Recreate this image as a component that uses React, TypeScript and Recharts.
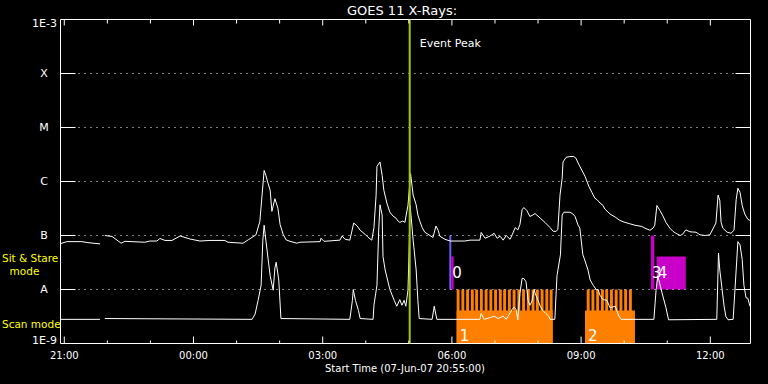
import React from "react"
import { ComposedChart, Line, XAxis, YAxis, ReferenceArea, ReferenceLine } from "recharts"

// time axis: hours since 00:00 UT on 07-Jun-07 (values above 24 fall on 08-Jun)
const longTime = [
  20.92, 21.06, 21.41, 21.53, 21.83, 21.88, 21.94, 22.11, 22.32, 22.41, 22.87, 22.99, 23.15, 23.22,
  23.34, 23.5, 23.69, 23.92, 24.15, 24.38, 24.73, 24.8, 25.15, 25.27, 25.45, 25.54, 25.64, 25.68,
  25.73, 25.78, 25.82, 25.89, 25.96, 26.01, 26.08, 26.15, 26.24, 26.4, 26.47, 26.94, 26.96, 27.03,
  27.4, 27.45, 27.52, 27.63, 27.72, 27.8, 27.87, 27.98, 28.05, 28.14, 28.19, 28.24, 28.26, 28.33,
  28.38, 28.42, 28.49, 28.56, 28.63, 28.7, 28.75, 28.79, 28.86, 28.91, 28.93, 28.98, 29.04, 29.1,
  29.17, 29.21, 29.26, 29.31, 29.37, 29.44, 29.56, 29.63, 29.68, 29.72, 29.84, 29.96, 30.3, 30.42,
  30.65, 30.68, 30.77, 30.88, 30.98, 31.05, 31.12, 31.19, 31.26, 31.35, 31.4, 31.47, 31.53, 31.58,
  31.63, 31.67, 31.74, 31.81, 31.88, 31.93, 32.05, 32.16, 32.28, 32.35, 32.42, 32.46, 32.51, 32.56,
  32.58, 32.65, 32.74, 32.83, 32.88, 32.93, 33.02, 33.09, 33.18, 33.25, 33.32, 33.37, 33.44, 33.51,
  33.55, 33.67, 33.79, 33.9, 34.02, 34.13, 34.25, 34.41, 34.48, 34.6, 34.67, 34.71, 34.76, 34.83,
  34.9, 34.97, 35.06, 35.13, 35.2, 35.3, 35.36, 35.43, 35.53, 35.67, 35.76, 35.88, 35.99, 36.13,
  36.18, 36.22, 36.25, 36.29, 36.39, 36.48, 36.55, 36.6, 36.64, 36.69, 36.74, 36.8, 36.87, 36.92,
]
const longFlux = [
  7.1e-8, 7.7e-8, 7.7e-8, 7.4e-8, 7.0e-8, null, 1.0e-7, 9.6e-8, 7.2e-8, 7.8e-8, 7.5e-8, 7.9e-8, 7.9e-8, 8.8e-8,
  8.1e-8, 8.1e-8, 9.8e-8, 8.6e-8, 7.9e-8, 8.1e-8, 8.1e-8, 7.5e-8, 7.2e-8, 8.3e-8, 1.03e-7, 1.8e-7, 1.6e-6, 1.3e-6,
  9.3e-7, 6.9e-7, 2.8e-7, 4.8e-7, 3.2e-7, 1.6e-7, 1.06e-7, 8.3e-8, 7.8e-8, 7.2e-8, 7.5e-8, 7.7e-8, 8.9e-8, 7.8e-8,
  8.2e-8, 9.8e-8, 8.5e-8, 8.2e-8, 1.7e-7, 1.5e-7, 1.25e-7, 1.06e-7, 9.3e-8, 8.2e-8, 1.4e-7, 5.6e-7, 1.9e-6, 2.3e-6,
  1.3e-6, 6.9e-7, 4.0e-7, 2.7e-7, 2.3e-7, 2.1e-7, 1.85e-7, 1.75e-7, 1.85e-7, 1.75e-7, 2.2e-7, 3.6e-7, 1.4e-6, 5.6e-7,
  3.7e-7, 2.4e-7, 1.8e-7, 1.4e-7, 1.15e-7, 1.06e-7, 9.2e-8, 1.5e-7, 1.25e-7, 9.7e-8, 8.5e-8, 7.9e-8, 7.9e-8, 8.2e-8,
  8.2e-8, 1.14e-7, 8.9e-8, 9.7e-8, 1.1e-7, 8.9e-8, 9.7e-8, 8.2e-8, 1.0e-7, 8.5e-8, 1.03e-7, 1.4e-7, 1.27e-7, 1.6e-7,
  3.0e-7, 3.3e-7, 2.9e-7, 2.25e-7, 2.4e-7, 2.55e-7, 2.1e-7, 1.75e-7, 1.4e-7, 1.2e-7, 1.19e-7, 1.3e-7, 5.6e-7, 1.15e-6,
  2.3e-6, 2.8e-6, 2.9e-6, 2.9e-6, 2.7e-6, 2.2e-6, 1.6e-6, 1.25e-6, 8.1e-7, 6.3e-7, 4.9e-7, 4.6e-7, 4.0e-7, 3.6e-7,
  3.1e-7, 2.5e-7, 2.2e-7, 1.9e-7, 1.75e-7, 1.65e-7, 1.55e-7, 1.47e-7, 1.37e-7, 1.25e-7, 1.37e-7, 1.55e-7, 3.6e-7, 2.9e-7,
  2.3e-7, 1.75e-7, 1.37e-7, 1.2e-7, 1.1e-7, 1.0e-7, 1.06e-7, 1.27e-7, 1.17e-7, 1.15e-7, 1.03e-7, 1.0e-7, 1.03e-7, 1.7e-7,
  5.6e-7, 4.5e-7, 1.75e-7, 1.37e-7, 1.15e-7, 1.1e-7, 1.25e-7, 4.6e-7, 7.5e-7, 6.3e-7, 3.6e-7, 2.5e-7, 2.0e-7, 1.9e-7,
]

const shortTime = [
  20.92, 21.83, 21.88, 21.94, 25.36, 25.43, 25.5, 25.57, 25.61, 25.64, 25.68, 25.73, 25.78, 25.85,
  25.89, 25.92, 25.98, 26.03, 27.63, 27.69, 27.71, 27.76, 27.83, 27.87, 28.17, 28.19, 28.26, 28.3,
  28.33, 28.38, 28.4, 28.45, 28.56, 28.66, 28.72, 28.79, 28.84, 28.89, 28.93, 28.98, 29.0, 29.03,
  29.1, 29.17, 29.21, 29.24, 29.54, 29.59, 29.65, 30.65, 30.68, 30.75, 30.88, 30.98, 31.07, 31.19,
  31.26, 31.4, 31.44, 31.49, 31.53, 31.58, 31.63, 31.67, 31.72, 31.77, 31.81, 31.86, 31.91, 31.93,
  32.0, 32.05, 32.11, 32.18, 32.25, 32.28, 32.39, 32.44, 32.52, 32.56, 32.6, 32.74, 32.81, 32.86,
  32.93, 32.97, 33.04, 33.07, 33.16, 33.21, 33.28, 33.35, 33.39, 33.44, 33.51, 33.6, 33.67, 33.79,
  33.88, 33.93, 34.69, 34.74, 34.78, 34.88, 34.97, 35.03, 36.15, 36.19, 36.22, 36.32, 36.36, 36.41,
  36.53, 36.6, 36.64, 36.69, 36.74, 36.78, 36.83, 36.87, 36.92,
]
const shortFlux = [
  2.8e-9, 2.8e-9, null, 2.9e-9, 2.8e-9, 3.5e-9, 6.3e-9, 1.2e-8, 8.2e-8, 1.55e-7, 8.2e-8, 3.8e-8, 1.8e-8, 9.7e-9,
  2.5e-8, 3.2e-8, 1.5e-8, 2.9e-9, 2.8e-9, 6.3e-9, 1.0e-8, 6.3e-9, 4.1e-9, 2.9e-9, 2.8e-9, 5.1e-9, 1.2e-8, 1.25e-7,
  3.7e-7, 2.4e-7, 4.1e-8, 2.3e-8, 1.0e-8, 6.3e-9, 4.9e-9, 6.5e-9, 5.1e-9, 6.3e-9, 4.9e-9, 9.7e-9, 3.5e-8, 3.6e-7,
  8.2e-8, 2.3e-8, 6.3e-9, 2.9e-9, 2.8e-9, 4.9e-9, 2.8e-9, 2.8e-9, 3.6e-9, 2.8e-9, 3.0e-9, 3.2e-9, 2.9e-9, 3.2e-9,
  2.8e-9, 4.3e-9, 4.7e-9, 4.3e-9, 2.75e-9, 8.6e-9, 1.6e-8, 1.6e-8, 1.4e-8, 6.3e-9, 5.1e-9, 6.1e-9, 1.0e-8, 8.6e-9,
  6.3e-9, 4.9e-9, 4.1e-9, 3.6e-9, 3.2e-9, 2.8e-9, 2.8e-9, 1.8e-8, 4.4e-8, 2.4e-7, 2.7e-7, 2.7e-7, 2.5e-7, 2.25e-7,
  1.55e-7, 1.37e-7, 4.4e-8, 3.8e-8, 2.3e-8, 1.5e-8, 1.2e-8, 1.0e-8, 1.0e-8, 7.8e-9, 6.5e-9, 6.3e-9, 4.6e-9, 4.9e-9,
  3.2e-9, 2.8e-9, 2.8e-9, 9.7e-9, 1.8e-8, 8.6e-9, 4.6e-9, 2.75e-9, 2.8e-9, 4.7e-8, 2.3e-8, 4.9e-9, 3.2e-9, 2.75e-9,
  2.8e-9, 2.3e-8, 7.7e-8, 6.7e-8, 3.6e-8, 1.2e-8, 7.0e-9, 6.9e-9, 4.9e-9,
]

const hourTicks = [21, 22, 23, 24, 25, 26, 27, 28, 29, 30, 31, 32, 33, 34, 35, 36]
const labelledHours = [21, 24, 27, 30, 33, 36]
const decadeTicks = [1e-9, 1e-8, 1e-7, 1e-6, 1e-5, 1e-4, 1e-3]
const decadeLabels = ["1E-9", "A", "B", "C", "M", "X", "1E-3"]
const classLevels = [1e-8, 1e-7, 1e-6, 1e-5, 1e-4]

const eventPeak = 29.02

// scan mode rasters
const scanStart = [30.11, 33.09]
const scanEnd = [32.34, 34.25]
const scanLabel = ["1", "2"]
const rasterStart = [
  30.11, 30.22, 30.33, 30.44, 30.54, 30.65, 30.76, 30.87, 30.98, 31.09, 31.19, 31.3, 31.41, 31.52,
  31.63, 31.74, 31.85, 31.95, 32.06, 32.17, 32.27,
  33.13, 33.24, 33.35, 33.46, 33.56, 33.67, 33.78, 33.89, 34.0, 34.11,
]
const rasterLength = 0.068

// sit & stare pointings
const stareStart = [29.94, 29.985, 34.62, 34.755]
const stareEnd = [29.985, 30.04, 34.7, 35.43]
const stareTop = [1e-7, 4.1e-8, 1e-7, 4.1e-8]
const stareLabel = ["", "0", "3", "4"]

const longData = longTime.map((t, i) => ({ t, flux: longFlux[i] }))
const shortData = shortTime.map((t, i) => ({ t, flux: shortFlux[i] }))

const FONT = "DejaVu Sans"
const PLOT = { left: 60.5, right: 750.5, top: 19.5, bottom: 343.5 }
const X_DOMAIN = [20.912, 36.933]
const ORANGE = "#ff8000"
const MAGENTA = "#c800c8"
const BLUE = "#6a60ff"

function XTick(props: any) {
  const { x, payload } = props
  const h = payload.value
  const big = labelledHours.includes(h)
  const label = String(h % 24).padStart(2, "0") + ":00"
  return (
    <g>
      <line x1={x} x2={x} y1={PLOT.bottom} y2={PLOT.bottom - (big ? 7 : 3)} stroke="#fff" />
      <line x1={x} x2={x} y1={PLOT.top} y2={PLOT.top + (big ? 6 : 4)} stroke="#fff" />
      {big && (
        <text x={x} y={355} textAnchor="middle" dominantBaseline="central" fill="#fff" fontSize={10} fontFamily={FONT}>
          {label}
        </text>
      )}
    </g>
  )
}

function YTick(props: any) {
  const { y, payload } = props
  const i = decadeTicks.indexOf(payload.value)
  const label = decadeLabels[i]
  const isEnd = i === 0 || i === decadeTicks.length - 1
  const ty = i === 0 ? y - 3.5 : i === decadeTicks.length - 1 ? y + 3.5 : y
  return (
    <g>
      {!isEnd && <line x1={PLOT.left} x2={PLOT.left + 15} y1={y} y2={y} stroke="#fff" />}
      {!isEnd && <line x1={PLOT.right - 15} x2={PLOT.right} y1={y} y2={y} stroke="#fff" />}
      <text
        x={isEnd ? 57 : 44}
        y={ty}
        textAnchor={isEnd ? "end" : "middle"}
        dominantBaseline="central"
        fill="#fff"
        fontSize={11}
        fontFamily={FONT}
      >
        {label}
      </text>
    </g>
  )
}

export default function App() {
  return (
    <div style={{ position: "absolute", left: 0, top: 0, width: 768, height: 384, background: "#000" }}>
      <ComposedChart
        width={768}
        height={384}
        margin={{ top: PLOT.top, right: 768 - PLOT.right, bottom: 0.5, left: 0.5 }}
      >
        <XAxis
          type="number"
          dataKey="t"
          domain={X_DOMAIN}
          allowDataOverflow
          ticks={hourTicks}
          interval={0}
          height={40}
          tickSize={0}
          axisLine={false}
          tickLine={false}
          tick={(p: any) => <XTick {...p} />}
        />
        <YAxis
          type="number"
          scale="log"
          domain={[1e-9, 1e-3]}
          allowDataOverflow
          ticks={decadeTicks}
          interval={0}
          width={60}
          tickSize={0}
          axisLine={false}
          tickLine={false}
          tick={(p: any) => <YTick {...p} />}
        />
        {classLevels.map((lvl) => (
          <ReferenceLine key={"g" + lvl} y={lvl} stroke="#fff" strokeDasharray="1 5" />
        ))}
        {scanStart.map((s, i) => (
          <ReferenceArea
            key={"scan" + i}
            x1={s}
            x2={scanEnd[i]}
            y1={1e-9}
            y2={4.1e-9}
            fill={ORANGE}
            fillOpacity={1}
            stroke="none"
          />
        ))}
        {rasterStart.map((s, i) => (
          <ReferenceArea
            key={"r" + i}
            x1={s}
            x2={s + rasterLength}
            y1={1e-9}
            y2={1e-8}
            fill={ORANGE}
            fillOpacity={1}
            stroke="none"
          />
        ))}
        {stareStart.map((s, i) => (
          <ReferenceArea
            key={"st" + i}
            x1={s}
            x2={stareEnd[i]}
            y1={1e-8}
            y2={stareTop[i]}
            fill={stareLabel[i] === "" ? BLUE : MAGENTA}
            fillOpacity={1}
            stroke="none"
          />
        ))}
        {scanStart.map((s, i) => (
          <ReferenceArea
            key={"scanlbl" + i}
            x1={s}
            x2={scanEnd[i]}
            y1={1e-9}
            y2={4.1e-9}
            fill="none"
            stroke="none"
            label={{ value: scanLabel[i], position: "insideBottomLeft", offset: 3, fill: "#fff", fontSize: 15, fontFamily: FONT }}
          />
        ))}
        {stareStart.map((s, i) => (
          <ReferenceArea
            key={"stlbl" + i}
            x1={s}
            x2={stareEnd[i]}
            y1={1e-8}
            y2={stareTop[i]}
            fill="none"
            stroke="none"
            label={(p: any) => {
              const vb = p.viewBox
              if (!vb || !stareLabel[i]) return null
              return (
                <text
                  x={vb.x + 1}
                  y={vb.y + vb.height - 17}
                  dominantBaseline="central"
                  fill="#fff"
                  fontSize={15}
                  fontFamily={FONT}
                >
                  {stareLabel[i]}
                </text>
              )
            }}
          />
        ))}
        <ReferenceArea
          x1={X_DOMAIN[0]}
          x2={X_DOMAIN[1]}
          y1={1e-9}
          y2={1e-3}
          fill="none"
          stroke="#fff"
          strokeWidth={1}
        />
        <Line
          data={longData}
          dataKey="flux"
          type="linear"
          stroke="#fff"
          strokeWidth={1}
          dot={false}
          activeDot={false}
          isAnimationActive={false}
        />
        <Line
          data={shortData}
          dataKey="flux"
          type="linear"
          stroke="#fff"
          strokeWidth={1}
          dot={false}
          activeDot={false}
          isAnimationActive={false}
        />
        <ReferenceLine
          x={eventPeak}
          stroke="#a0c800"
          strokeWidth={2}
          zIndex={900}
          label={(p: any) => {
            const vb = p.viewBox
            if (!vb) return null
            return (
              <text x={vb.x + 10} y={43} dominantBaseline="central" fill="#fff" fontSize={11} fontFamily={FONT}>
                Event Peak
              </text>
            )
          }}
        />
      </ComposedChart>
      <svg width={768} height={384} style={{ position: "absolute", left: 0, top: 0, pointerEvents: "none" }}>
        <text x={402} y={10} textAnchor="middle" dominantBaseline="central" fill="#fff" fontSize={13} fontFamily={FONT}>
          GOES 11 X-Rays:
        </text>
        <text x={405} y={368} textAnchor="middle" dominantBaseline="central" fill="#fff" fontSize={10} fontFamily={FONT}>
          Start Time (07-Jun-07 20:55:00)
        </text>
        <text x={2} y={258} dominantBaseline="central" fill="#ffff00" fontSize={10.5} fontFamily={FONT}>
          Sit &amp; Stare
        </text>
        <text x={24.5} y={271} textAnchor="middle" dominantBaseline="central" fill="#ffff00" fontSize={10.5} fontFamily={FONT}>
          mode
        </text>
        <text x={2} y={324} dominantBaseline="central" fill="#ffff00" fontSize={10.5} fontFamily={FONT}>
          Scan mode
        </text>
      </svg>
    </div>
  )
}
